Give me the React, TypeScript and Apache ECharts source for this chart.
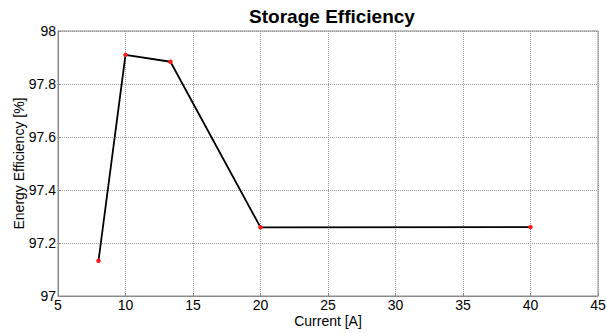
import React, { useEffect, useRef } from "react";
import * as echarts from "echarts";

const currents = [8, 10, 13.33, 20, 40];
const efficiencies = [97.133, 97.91, 97.884, 97.259, 97.26];
const xTicks = { min: 5, max: 45, interval: 5 };
const yTicks = { min: 97, max: 98, interval: 0.2 };

export default function App() {
  const ref = useRef<HTMLDivElement>(null);
  useEffect(() => {
    if (!ref.current) return;
    const chart = echarts.init(ref.current, undefined, { renderer: "svg" });
    const font = "Liberation Sans, Arial, sans-serif";
    chart.setOption({
      animation: false,
      backgroundColor: "#ffffff",
      title: {
        text: "Storage Efficiency",
        left: 327,
        top: 2,
        textAlign: "center",
        textStyle: { fontFamily: font, fontWeight: "bold", fontSize: 19, color: "#000" },
      },
      grid: {
        left: 58,
        right: 9,
        top: 31,
        bottom: 37,
        containLabel: false,
        outerBoundsMode: "none",
        show: true,
        borderColor: "#8a8a8a",
        borderWidth: 1,
      },
      xAxis: {
        type: "value",
        min: xTicks.min,
        max: xTicks.max,
        interval: xTicks.interval,
        name: "Current [A]",
        nameLocation: "middle",
        nameGap: 18,
        nameMoveOverlap: false,
        nameTextStyle: { fontFamily: font, fontSize: 14, color: "#000" },
        axisLine: { show: true, lineStyle: { color: "#8a8a8a" } },
        axisTick: { show: true, inside: true, length: 3, lineStyle: { color: "#8a8a8a" } },
        axisLabel: { fontFamily: font, fontSize: 14, color: "#000", margin: 2, hideOverlap: false },
        splitLine: { show: true, lineStyle: { type: [1, 1], color: "#9a9a9a", width: 1 } },
      },
      yAxis: {
        type: "value",
        min: yTicks.min,
        max: yTicks.max,
        interval: yTicks.interval,
        name: "Energy Efficiency [%]",
        nameLocation: "middle",
        nameGap: 32,
        nameMoveOverlap: false,
        nameTextStyle: { fontFamily: font, fontSize: 14, color: "#000" },
        axisLine: { show: true, lineStyle: { color: "#8a8a8a" } },
        axisTick: { show: true, inside: true, length: 3, lineStyle: { color: "#8a8a8a" } },
        axisLabel: {
          fontFamily: font,
          fontSize: 14,
          color: "#000",
          margin: 2,
          formatter: (v: number) => String(Math.round(v * 10) / 10),
        },
        splitLine: { show: true, lineStyle: { type: [1, 1], color: "#9a9a9a", width: 1 } },
      },
      series: [
        {
          type: "line",
          data: currents.map((c, i) => [c, efficiencies[i]]),
          lineStyle: { color: "#000", width: 1.8 },
          itemStyle: { color: "#ff1a1a" },
          symbol: "circle",
          symbolSize: 4.5,
          showSymbol: true,
        },
      ],
    });
    return () => chart.dispose();
  }, []);
  return <div ref={ref} style={{ width: 607, height: 333, position: "absolute", left: 0, top: 0 }} />;
}
